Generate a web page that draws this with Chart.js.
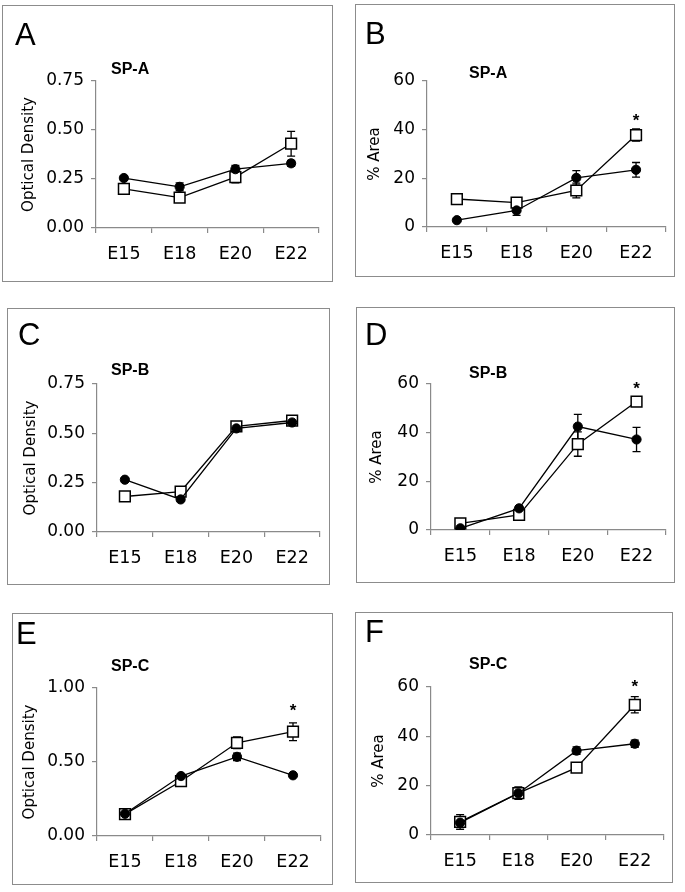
<!DOCTYPE html>
<html>
<head>
<meta charset="utf-8">
<script src="https://cdn.jsdelivr.net/npm/chart.js@4"></script>
<style>
  body { margin: 0; background: #fff; width: 685px; height: 892px; position: relative; overflow: hidden; font-family: "Liberation Sans", Arial, sans-serif; }
  .box { position: absolute; box-sizing: border-box; border: 1.5px solid #8c8c8c; }
  canvas { position: absolute; }
  .letter { position: absolute; font-size: 31px; line-height: 1; color: #000; }
  .sub { position: absolute; font-size: 16px; font-weight: bold; line-height: 1; color: #000; }
</style>
</head>
<body>
<script>
const weeks = ['E15', 'E18', 'E20', 'E22'];

// SP-A
const odA_filled = [0.255, 0.21, 0.30, 0.33];
const odA_filledErr = [0.01, 0.02, 0.02, 0.015];
const odA_open = [0.20, 0.155, 0.26, 0.43];
const odA_openErr = [0.01, 0.01, 0.03, 0.063];
const areaA_filled = [2.8, 6.8, 20.2, 23.5];
const areaA_filledErr = [0.5, 2, 3, 3];
const areaA_open = [11.5, 10, 15, 37.8];
const areaA_openErr = [0.5, 0.8, 3, 2.5];
const areaA_stars = [null, null, null, 45];

// SP-B
const odB_filled = [0.265, 0.165, 0.525, 0.555];
const odB_filledErr = [0.01, 0.01, 0.01, 0.01];
const odB_open = [0.18, 0.205, 0.535, 0.565];
const odB_openErr = [0.01, 0.01, 0.01, 0.01];
const areaB_filled = [0.7, 8.9, 42.5, 37.2];
const areaB_filledErr = [0.3, 1, 5, 5];
const areaB_open = [2.7, 6.2, 35.3, 52.8];
const areaB_openErr = [0.5, 1, 5, 2];
const areaB_stars = [null, null, null, 59.5];

// SP-C
const odC_filled = [0.15, 0.405, 0.535, 0.41];
const odC_filledErr = [0.01, 0.01, 0.025, 0.01];
const odC_open = [0.148, 0.37, 0.63, 0.705];
const odC_openErr = [0.01, 0.015, 0.04, 0.06];
const odC_stars = [null, null, null, 0.87];
const areaC_filled = [5, 16.9, 34.2, 37];
const areaC_filledErr = [2, 1.5, 1.5, 1.5];
const areaC_open = [5.3, 17, 27.3, 52.8];
const areaC_openErr = [3, 2.5, 1.5, 3.3];
const areaC_stars = [null, null, null, 61.5];

const odTicks = { min: 0, max: 0.75, step: 0.25, digits: 2 };
const odTicksC = { min: 0, max: 1, step: 0.5, digits: 2 };
const areaTicks = { min: 0, max: 60, step: 20, digits: 0 };

const panels = [
  { letter: 'A', title: 'SP-A', yLabel: 'Optical Density', filled: odA_filled, filledErr: odA_filledErr, open: odA_open, openErr: odA_openErr, stars: null, ticks: odTicks,
    box: [2, 5, 331, 277], area: [94, 76, 14, 54], titlePad: 18, letterPos: [15, 19], subPos: [111, 61] },
  { letter: 'B', title: 'SP-A', yLabel: '% Area', filled: areaA_filled, filledErr: areaA_filledErr, open: areaA_open, openErr: areaA_openErr, stars: areaA_stars, ticks: areaTicks,
    box: [355, 4, 320, 273], area: [72, 77, 6, 50], titlePad: 11.5, letterPos: [365, 18], subPos: [469, 65] },
  { letter: 'C', title: 'SP-B', yLabel: 'Optical Density', filled: odB_filled, filledErr: odB_filledErr, open: odB_open, openErr: odB_openErr, stars: null, ticks: odTicks,
    box: [7, 308, 323, 277], area: [90, 76, 10, 53], titlePad: 15, letterPos: [18, 319], subPos: [111, 362] },
  { letter: 'D', title: 'SP-B', yLabel: '% Area', filled: areaB_filled, filledErr: areaB_filledErr, open: areaB_open, openErr: areaB_openErr, stars: areaB_stars, ticks: areaTicks,
    box: [356, 307, 319, 276], area: [75, 77, 5, 53], titlePad: 12, letterPos: [365, 319], subPos: [469, 365] },
  { letter: 'E', title: 'SP-C', yLabel: 'Optical Density', filled: odC_filled, filledErr: odC_filledErr, open: odC_open, openErr: odC_openErr, stars: odC_stars, ticks: odTicksC,
    box: [12, 613, 321, 272], area: [85, 75, 12, 49], titlePad: 9.5, letterPos: [16, 618], subPos: [111, 658] },
  { letter: 'F', title: 'SP-C', yLabel: '% Area', filled: areaC_filled, filledErr: areaC_filledErr, open: areaC_open, openErr: areaC_openErr, stars: areaC_stars, ticks: areaTicks,
    box: [355, 612, 318, 271], area: [76, 75, 3, 48], titlePad: 15, letterPos: [365, 616], subPos: [469, 656] }
];

const FONT = '"DejaVu Sans", Arial, sans-serif';
const AXIS_GRAY = '#8a8a8a';

const errorBars = {
  id: 'errorBars',
  beforeDatasetsDraw(chart) {
    const ctx = chart.ctx;
    const y = chart.scales.y;
    chart.data.datasets.forEach((ds, i) => {
      if (!ds.errors) return;
      const meta = chart.getDatasetMeta(i);
      ctx.save();
      ctx.strokeStyle = '#000';
      ctx.lineWidth = 1.3;
      ds.data.forEach((v, j) => {
        const e = ds.errors[j];
        if (!e) return;
        const px = meta.data[j].x;
        const top = y.getPixelForValue(v + e);
        const bot = y.getPixelForValue(v - e);
        ctx.beginPath();
        ctx.moveTo(px, top); ctx.lineTo(px, bot);
        ctx.moveTo(px - 4, top); ctx.lineTo(px + 4, top);
        ctx.moveTo(px - 4, bot); ctx.lineTo(px + 4, bot);
        ctx.stroke();
      });
      ctx.restore();
    });
  },
  afterDatasetsDraw(chart, args, opts) {
    if (!opts.stars) return;
    const ctx = chart.ctx;
    ctx.save();
    ctx.fillStyle = '#000';
    ctx.font = 'bold 17px "Liberation Sans", Arial, sans-serif';
    ctx.textAlign = 'center';
    ctx.textBaseline = 'middle';
    opts.stars.forEach((v, j) => {
      if (v == null) return;
      ctx.fillText('*', chart.scales.x.getPixelForValue(j), chart.scales.y.getPixelForValue(v) + 4);
    });
    ctx.restore();
  }
};

panels.forEach(p => {
  const [bl, bt, bw, bh] = p.box;
  const [al, at, pr, pb] = p.area;

  const frame = document.createElement('div');
  frame.className = 'box';
  Object.assign(frame.style, { left: bl + 'px', top: bt + 'px', width: bw + 'px', height: bh + 'px' });
  document.body.appendChild(frame);

  const canvas = document.createElement('canvas');
  canvas.width = bw; canvas.height = bh;
  Object.assign(canvas.style, { left: bl + 'px', top: bt + 'px', width: bw + 'px', height: bh + 'px' });
  document.body.appendChild(canvas);

  const letter = document.createElement('div');
  letter.className = 'letter';
  letter.textContent = p.letter;
  letter.style.left = p.letterPos[0] + 'px'; letter.style.top = p.letterPos[1] + 'px';
  document.body.appendChild(letter);

  const sub = document.createElement('div');
  sub.className = 'sub';
  sub.textContent = p.title;
  sub.style.left = p.subPos[0] + 'px'; sub.style.top = p.subPos[1] + 'px';
  document.body.appendChild(sub);

  new Chart(canvas, {
    type: 'line',
    data: {
      labels: weeks,
      datasets: [
        {
          data: p.filled, errors: p.filledErr,
          borderColor: '#000', borderWidth: 1.3, tension: 0,
          pointStyle: 'circle', pointRadius: 4.6, pointBackgroundColor: '#000', pointBorderColor: '#000', pointBorderWidth: 1
        },
        {
          data: p.open, errors: p.openErr,
          borderColor: '#000', borderWidth: 1.3, tension: 0,
          pointStyle: 'rect', pointRadius: 7.6, pointBackgroundColor: '#fff', pointBorderColor: '#000', pointBorderWidth: 1.5
        }
      ]
    },
    options: {
      responsive: false,
      animation: false,
      devicePixelRatio: 1,
      layout: { padding: { left: 0, top: at, right: pr, bottom: 0 } },
      plugins: {
        legend: { display: false },
        tooltip: { enabled: false },
        errorBars: { stars: p.stars }
      },
      scales: {
        x: {
          offset: true,
          grid: { display: true, offset: true, drawOnChartArea: false, drawTicks: true, tickLength: 5, color: AXIS_GRAY, lineWidth: 1.2 },
          border: { display: true, color: AXIS_GRAY, width: 1.2 },
          ticks: { color: '#000', font: { family: FONT, size: 17.5 }, padding: 11, maxRotation: 0 },
          afterFit: s => { s.height = pb; }
        },
        y: {
          min: p.ticks.min, max: p.ticks.max,
          grid: { display: true, drawOnChartArea: false, drawTicks: true, tickLength: 5, color: AXIS_GRAY, lineWidth: 1.2 },
          border: { display: true, color: AXIS_GRAY, width: 1.2 },
          ticks: {
            stepSize: p.ticks.step, color: '#000', padding: 7,
            font: { family: FONT, size: 17 },
            callback: v => Number(v).toFixed(p.ticks.digits)
          },
          title: { display: true, text: p.yLabel, color: '#000', font: { family: FONT, size: 15 }, padding: { top: p.titlePad, bottom: 0 } },
          afterFit: s => { s.width = al; }
        }
      }
    },
    plugins: [errorBars]
  });
});
</script>
</body>
</html>
